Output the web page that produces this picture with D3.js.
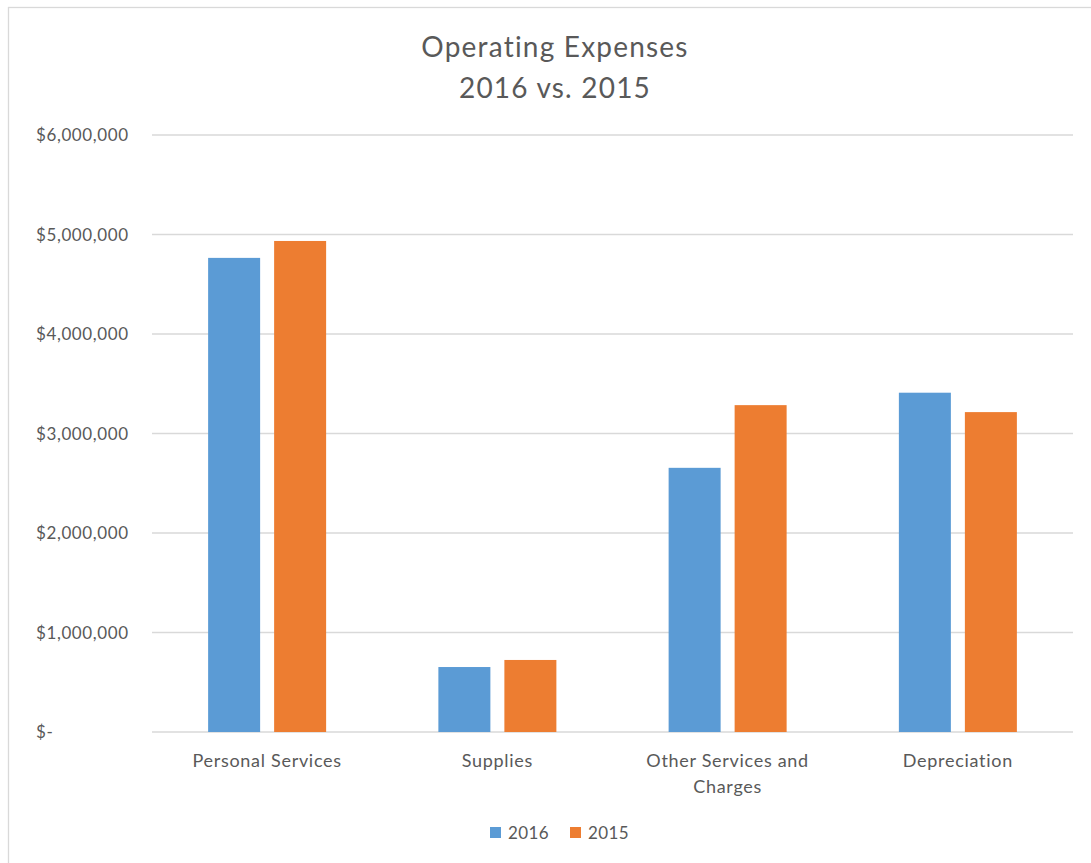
<!DOCTYPE html>
<html><head><meta charset="utf-8">
<script src="https://cdn.jsdelivr.net/npm/d3@7"></script>
<style>
html,body{margin:0;padding:0;background:#fff;}
svg text{font-family:Lato,"Open Sans",sans-serif;fill:#595959;}
</style></head>
<body><svg id="c" width="1091" height="863"></svg>
<script>
const categories = ["Personal Services", "Supplies", "Other Services and Charges", "Depreciation"];
const categoryLines = [["Personal Services"], ["Supplies"], ["Other Services and", "Charges"], ["Depreciation"]];
const seriesNames = ["2016", "2015"];
const values2016 = [4765000, 653000, 2655000, 3410000];
const values2015 = [4935000, 724000, 3285000, 3215000];
const yTicks = [0, 1000000, 2000000, 3000000, 4000000, 5000000, 6000000];
const yTickLabels = ["$-", "$1,000,000", "$2,000,000", "$3,000,000", "$4,000,000", "$5,000,000", "$6,000,000"];
const colors = ["#5B9BD5", "#ED7D31"];

const svg = d3.select("#c");
const L = 152, R = 1073, T = 135, B = 732;

// border
svg.append("rect").attr("x", 8.5).attr("y", 7.5).attr("width", 1200).attr("height", 1000)
  .attr("fill", "none").attr("stroke", "#D9D9D9").attr("stroke-width", 1.3);

const y = d3.scaleLinear().domain([0, 6000000]).range([B, T]);
const x0 = d3.scaleBand().domain(categories).range([L, R]).paddingInner(0).paddingOuter(0);
const x1 = d3.scaleBand().domain(seriesNames).range([0, 118]).paddingInner(14 / 66).paddingOuter(0);
const groupOffset = (x0.bandwidth() - 118) / 2;

// title
svg.append("text").attr("x", 555).attr("y", 57).attr("text-anchor", "middle")
  .style("font-size", "28px").style("letter-spacing", "1.2px").text("Operating Expenses");
svg.append("text").attr("x", 555).attr("y", 98).attr("text-anchor", "middle")
  .style("font-size", "28px").style("letter-spacing", "1.2px").text("2016 vs. 2015");

// grid
svg.append("g").selectAll("line").data(yTicks).join("line")
  .attr("x1", L).attr("x2", R).attr("y1", d => y(d)).attr("y2", d => y(d))
  .attr("stroke", "#D9D9D9").attr("stroke-width", 1.3);

// y labels
svg.append("g").selectAll("text").data(yTicks).join("text")
  .attr("x", 36).attr("y", d => y(d) + 6)
  .style("font-size", "17px").style("letter-spacing", "0.6px").text((d, i) => yTickLabels[i]);

// bars
const series = [values2016, values2015];
const g = svg.append("g");
series.forEach((vals, si) => {
  g.selectAll(".b" + si).data(categories).join("rect")
    .attr("x", c => x0(c) + groupOffset + x1(seriesNames[si]))
    .attr("width", x1.bandwidth())
    .attr("y", (c, i) => y(vals[i]))
    .attr("height", (c, i) => B - y(vals[i]))
    .attr("fill", colors[si]);
});

// x labels
categories.forEach((c, i) => {
  const t = svg.append("text").attr("text-anchor", "middle").style("font-size", "18px").style("letter-spacing", "0.7px");
  categoryLines[i].forEach((line, li) => {
    t.append("tspan").attr("x", x0(c) + x0.bandwidth() / 2).attr("y", 767 + li * 26).text(line);
  });
});

// legend
const legendX = [490, 570];
seriesNames.forEach((s, i) => {
  svg.append("rect").attr("x", legendX[i]).attr("y", 827).attr("width", 11).attr("height", 11).attr("fill", colors[i]);
  svg.append("text").attr("x", legendX[i] + 18).attr("y", 839).style("font-size", "17px").style("letter-spacing", "0.4px").text(s);
});
</script></body></html>
